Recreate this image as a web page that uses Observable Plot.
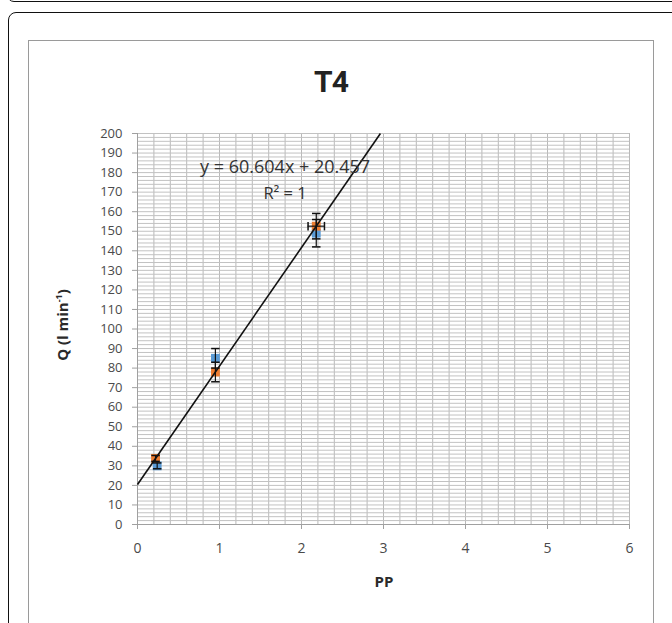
<!DOCTYPE html>
<html>
<head>
<meta charset="utf-8">
<script src="https://cdn.jsdelivr.net/npm/d3@7"></script>
<script src="https://cdn.jsdelivr.net/npm/@observablehq/plot@0.6"></script>
<style>
  html, body { margin: 0; padding: 0; background: #fff; }
  #wrap { position: relative; width: 672px; height: 623px; overflow: hidden; font-family: "Open Sans", "Liberation Sans", sans-serif; }
  .prevbox { position: absolute; left: 7px; top: -20px; width: 720px; height: 22px; border: 1.5px solid #111; border-radius: 7px; box-sizing: border-box; }
  .outer { position: absolute; left: 8px; top: 12px; width: 720px; height: 700px; border: 1.5px solid #111; border-radius: 8px; box-sizing: border-box; }
  .inner { position: absolute; left: 28px; top: 40px; width: 626px; height: 700px; border: 1px solid #9a9a9a; box-sizing: border-box; background: #fff; }
  #chart { position: absolute; left: 0; top: 0; }
  .title { position: absolute; left: 0; width: 662px; top: 64px; text-align: center; font-family: Roboto, sans-serif; font-weight: 700; font-size: 30px; color: #222; letter-spacing: -1px; }
  .ytitle { position: absolute; left: 62px; top: 325px; transform: translate(-50%, -50%) rotate(-90deg); white-space: nowrap; font-weight: 700; font-size: 15px; color: #2a2a2a; }
  .xtitle { position: absolute; left: 384px; top: 581px; transform: translate(-50%, -50%); font-weight: 700; font-size: 15px; color: #2a2a2a; }
</style>
</head>
<body>
<div id="wrap">
  <div class="prevbox"></div>
  <div class="outer"></div>
  <div class="inner"></div>
  <div id="chart"></div>
  <div class="title">T4</div>
  <div class="ytitle">Q (l min<sup style="font-size:9px">-1</sup>)</div>
  <div class="xtitle">PP</div>
</div>
<script>
// Series 1 (blue)
const ppBlue = [0.24, 0.95, 2.18];
const qBlue = [30, 85, 149];
const errBlue = [1.5, 5, 7];
// Series 2 (orange)
const ppOrange = [0.22, 0.95, 2.18];
const qOrange = [33.8, 78, 152.6];
const errOrange = [1.5, 5, 6.5];
const xErrOrange = [0, 0, 0.1];
// Trendline
const slope = 60.604;
const intercept = 20.457;
const eqLabel = "y = 60.604x + 20.457";
const r2Label = "R\u00B2 = 1";
// Axes
const xTicks = [0, 1, 2, 3, 4, 5, 6];
const yTicks = d3.range(0, 201, 10);
const xGrid = d3.range(0, 6.001, 0.2);
const yGrid = d3.range(0, 201, 2);

const blue = ppBlue.map((x, i) => ({x, y: qBlue[i], e: errBlue[i]}));
const orange = ppOrange.map((x, i) => ({x, y: qOrange[i], e: errOrange[i], ex: xErrOrange[i]}));
const yMax = 200;
const trend = [{x1: 0, y1: intercept, x2: (yMax - intercept) / slope, y2: yMax}];

const capSymbol = {draw(ctx, size) { const w = Math.sqrt(size); ctx.moveTo(-w, 0); ctx.lineTo(w, 0); }};
const vcapSymbol = {draw(ctx, size) { const w = Math.sqrt(size); ctx.moveTo(0, -w); ctx.lineTo(0, w); }};

const errMarks = (data) => [
  Plot.ruleX(data, {x: "x", y1: d => d.y - d.e, y2: d => d.y + d.e, stroke: "#111", strokeWidth: 1.2}),
  Plot.dot(data, {x: "x", y: d => d.y - d.e, symbol: capSymbol, r: 2.4, stroke: "#111", strokeWidth: 1.5}),
  Plot.dot(data, {x: "x", y: d => d.y + d.e, symbol: capSymbol, r: 2.4, stroke: "#111", strokeWidth: 1.5})
];
const xErrData = orange.filter(d => d.ex > 0);

const chart = Plot.plot({
  width: 672,
  height: 623,
  marginLeft: 137,
  marginRight: 43,
  marginTop: 133,
  marginBottom: 99,
  style: {background: "transparent", fontFamily: "'Open Sans', sans-serif", fontSize: "13px", color: "#595959"},
  x: {domain: [0, 6]},
  y: {domain: [0, 200]},
  marks: [
    Plot.ruleX(xGrid, {stroke: "#b9b9b9", strokeWidth: 1}),
    Plot.ruleY(yGrid, {stroke: "#c2c2c2", strokeWidth: 1}),
    Plot.ruleY([0], {stroke: "#a0a0a0", strokeWidth: 1}),
    Plot.ruleX([0], {stroke: "#a0a0a0", strokeWidth: 1}),
    Plot.axisX({ticks: xTicks, tickFormat: "d", tickSize: 5, tickPadding: 14, stroke: "#a0a0a0", label: null, fill: "#4a4a4a", fontSize: 14}),
    Plot.axisY({ticks: yTicks, tickFormat: "d", tickSize: 5, tickPadding: 10, stroke: "#a0a0a0", label: null, fill: "#4a4a4a"}),
    Plot.dot(blue, {x: "x", y: "y", symbol: "square", r: 5, fill: "#5B9BD5"}),
    Plot.dot(orange, {x: "x", y: "y", symbol: "square", r: 5, fill: "#ED7D31"}),
    ...errMarks(blue),
    ...errMarks(orange),
    Plot.ruleY(xErrData, {y: "y", x1: d => d.x - d.ex, x2: d => d.x + d.ex, stroke: "#111", strokeWidth: 1.2}),
    Plot.dot(xErrData, {x: d => d.x - d.ex, y: "y", symbol: vcapSymbol, r: 2.4, stroke: "#111", strokeWidth: 1.5}),
    Plot.dot(xErrData, {x: d => d.x + d.ex, y: "y", symbol: vcapSymbol, r: 2.4, stroke: "#111", strokeWidth: 1.5}),
    Plot.link(trend, {x1: "x1", y1: "y1", x2: "x2", y2: "y2", stroke: "#111", strokeWidth: 1.6}),
    Plot.text([eqLabel], {x: 1.8, y: 182.5, text: d => d, fontSize: 18, fill: "#333"}),
    Plot.text([r2Label], {x: 1.8, y: 169, text: d => d, fontSize: 16.5, fill: "#333"})
  ]
});
document.getElementById("chart").appendChild(chart);
</script>
</body>
</html>
